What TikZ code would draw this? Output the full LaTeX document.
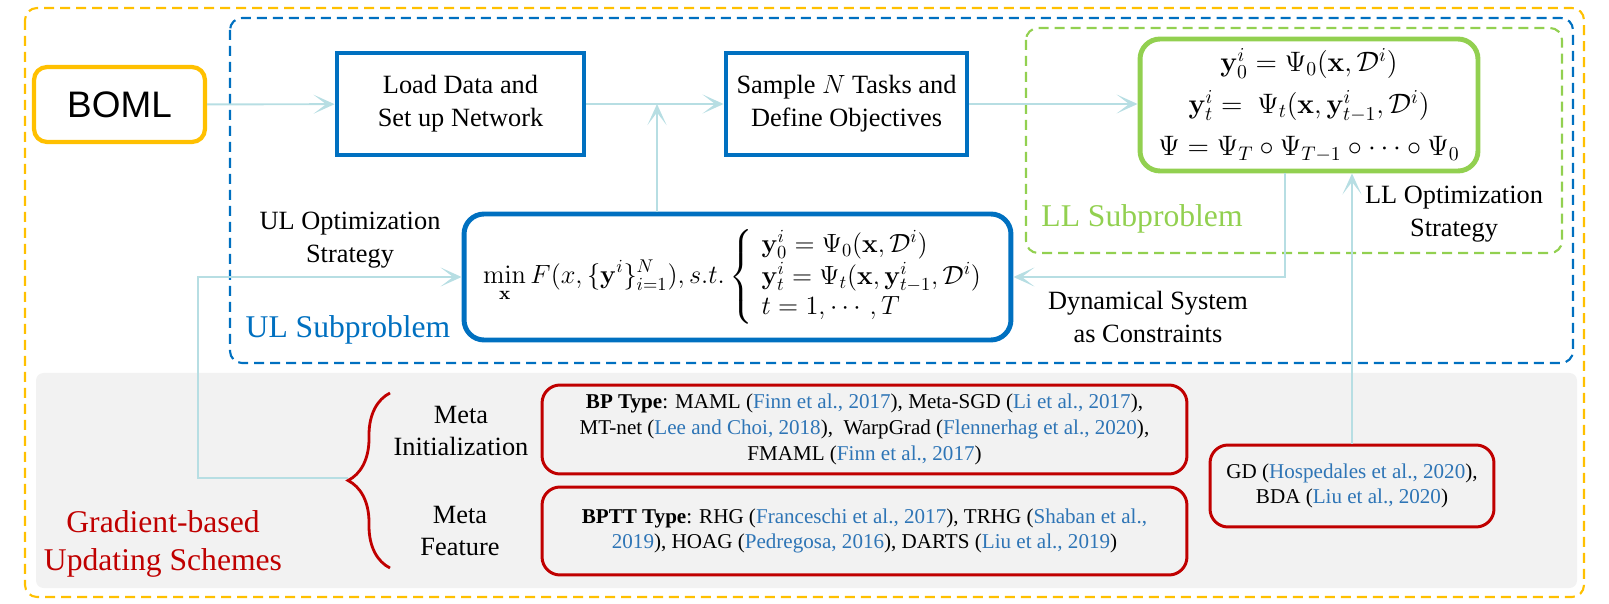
\RequirePackage{fix-cm}
\documentclass[tikz,border=0pt]{standalone}
\usepackage{amsmath,amssymb}
\usepackage[no-math]{fontspec}
\setmainfont{Liberation Serif}
\newfontfamily\bomlfont{Liberation Sans}
\usepackage{tikz}
\usetikzlibrary{arrows.meta,decorations.pathreplacing}
\definecolor{bomlorange}{HTML}{FFC000}
\definecolor{ulblue}{HTML}{0070C0}
\definecolor{llgreen}{HTML}{92D050}
\definecolor{schemered}{HTML}{C00000}
\definecolor{connblue}{HTML}{B7DEE3}
\definecolor{citeblue}{HTML}{2E75B6}
\definecolor{panelgray}{HTML}{F2F2F2}
\newcommand{\refc}[1]{\textcolor{citeblue}{#1}}

\begin{document}
\begin{tikzpicture}[x=0.02cm,y=-0.02cm,>={Stealth[length=0.42cm,width=0.38cm,inset=0.25cm]},thick]
\tikzstyle{block}=[rectangle,draw=ulblue,line width=2.8pt,align=center,inner sep=0pt,font=\fontsize{15}{18.7}\selectfont]
\tikzstyle{refbox}=[rectangle,draw=schemered,line width=1.7pt,rounded corners=0.36cm,align=center,inner sep=0pt,font=\fontsize{12}{14.7}\selectfont]
\tikzstyle{conn}=[draw=connblue,line width=1.1pt]
\tikzstyle{frame}=[line width=1.2pt,dash pattern=on 0.2cm off 0.12cm,rounded corners=0.24cm]
\tikzstyle{lbltext}=[align=center,inner sep=0pt,font=\fontsize{15}{18.7}\selectfont]
\useasboundingbox (0,0) rectangle (1609,604);

% frames
\fill[panelgray,rounded corners=0.15cm] (36,373) rectangle (1577,588);
\draw[frame,bomlorange] (25,8) rectangle (1584,597);
\draw[frame,ulblue] (230,18) rectangle (1573,363);
\draw[frame,llgreen] (1026,28) rectangle (1562,253);

% top row
\node[rectangle,draw=bomlorange,line width=2.4pt,rounded corners=0.26cm,minimum width=3.42cm,minimum height=1.5cm,font=\bomlfont\fontsize{21}{25}\selectfont] (boml) at (119.5,104.5) {BOML};
\node[block,minimum width=4.94cm,minimum height=2.04cm] (load) at (460.5,104) {Load Data and\\Set up Network};
\node[block,minimum width=4.82cm,minimum height=2.04cm] (sample) at (846.5,104) {Sample $N$ Tasks and\\Define Objectives};
\node[block,draw=llgreen,rounded corners=0.4cm,minimum width=6.76cm,minimum height=2.64cm,font=\fontsize{16}{23}\selectfont] (llbox) at (1309,105)
  {$\mathbf{y}_0^i=\Psi_0(\mathbf{x},\mathcal{D}^i)$\\[1pt]
   $\mathbf{y}_t^i=\ \Psi_t(\mathbf{x},\mathbf{y}_{t-1}^i,\mathcal{D}^i)$\\[1pt]
   $\Psi=\Psi_T\circ\Psi_{T-1}\circ\cdots\circ\Psi_0$};
\node[block,rounded corners=0.4cm,minimum width=10.94cm,minimum height=2.52cm,font=\fontsize{15}{16.5}\selectfont] (ulbox) at (737.5,277)
  {$\displaystyle\min_{\mathbf{x}} F(x,\{\mathbf{y}^i\}_{i=1}^N), s.t. \left\{\begin{array}{l}
   \mathbf{y}_0^i=\Psi_0(\mathbf{x},\mathcal{D}^i)\\[1pt]
   \mathbf{y}_t^i=\Psi_t(\mathbf{x},\mathbf{y}_{t-1}^i,\mathcal{D}^i)\\[1pt]
   t=1,\cdots,T\end{array}\right.$};

% labels
\node[lbltext] (ulopt) at (350,240) {UL Optimization\\Strategy};
\node[lbltext,text=ulblue,font=\fontsize{18}{21.5}\selectfont] (ulsub) at (348,330) {UL Subproblem};
\node[lbltext,text=llgreen,font=\fontsize{18}{21.5}\selectfont] (llsub) at (1142,219) {LL Subproblem};
\node[lbltext] (llopt) at (1454,214) {LL Optimization\\Strategy};
\node[lbltext] (dynsys) at (1148,317) {Dynamical System\\as Constraints};

% bottom panel
\node[lbltext] (metainit) at (461,431) {Meta\\Initialization};
\node[lbltext] (metafeat) at (460,531) {Meta\\Feature};
\node[lbltext,text=schemered,font=\fontsize{18}{21.5}\selectfont] (gradient) at (163,544) {Gradient-based\\Updating Schemes};
\node[refbox,minimum width=12.9cm,minimum height=1.78cm] (bp) at (864.5,429.5)
  {\textbf{BP Type}: MAML (\refc{Finn et al., 2017}), Meta-SGD (\refc{Li et al., 2017}),\\
   MT-net (\refc{Lee and Choi, 2018}),~ WarpGrad (\refc{Flennerhag et al., 2020}),\\
   FMAML (\refc{Finn et al., 2017})};
\node[refbox,minimum width=12.9cm,minimum height=1.76cm] (bptt) at (864.5,531)
  {\textbf{BPTT Type}: RHG (\refc{Franceschi et al., 2017}), TRHG (\refc{Shaban et al.,}\\
   \refc{2019}), HOAG (\refc{Pedregosa, 2016}), DARTS (\refc{Liu et al., 2019})};
\node[refbox,minimum width=5.68cm,minimum height=1.64cm] (gd) at (1352,486)
  {GD (\refc{Hospedales et al., 2020}),\\BDA (\refc{Liu et al., 2020})};
\draw[schemered,line width=1.6pt,decorate,decoration={brace,amplitude=0.84cm}] (390,568) -- (390,393);

% connectors
\coordinate (jn) at (657,104);
\coordinate (dsturn) at (1285,277);
\coordinate (bracetip) at (348,478);
\coordinate (ulturn) at (198,478);
\draw[conn,->] (boml) -- (load);
\draw[conn,->] (load) -- (sample);
\draw[conn,->] (ulbox.north -| jn) -- (jn);
\draw[conn,->] (sample) -- (sample -| llbox.west);
\draw[conn,->] (llbox.south -| dsturn) |- (ulbox.east);
\draw[conn,->] (gd.north) -- (gd.north |- llbox.south);
\draw[conn,->] (bracetip) -- (ulturn) |- (ulbox.west);
\end{tikzpicture}
\end{document}
